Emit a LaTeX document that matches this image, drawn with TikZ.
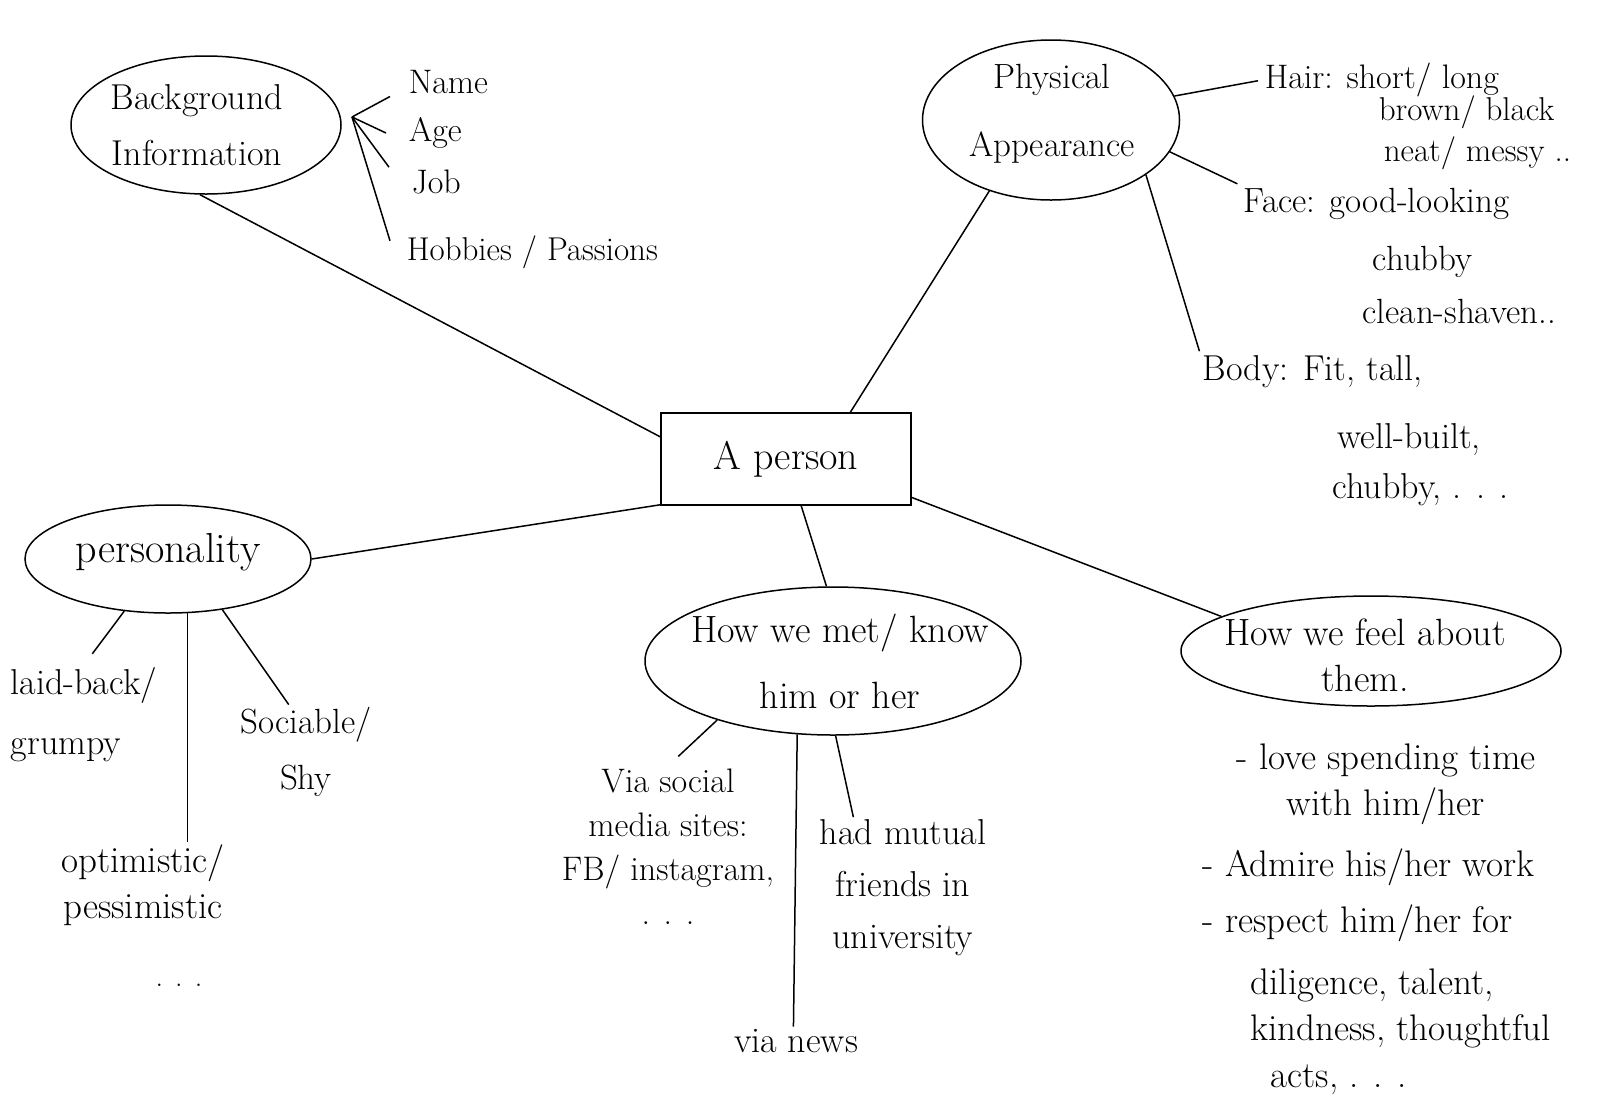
\documentclass[tikz,border=0pt]{standalone}
\usepackage{fontspec}
\usetikzlibrary{shapes.geometric}
\begin{document}
\begin{tikzpicture}[x=1pt,y=-1pt,line width=1.5pt,
  bubble/.style={draw,ellipse,inner sep=0pt},
  btext/.style={align=center,inner sep=0pt},
  leaf/.style={anchor=west,inner sep=2pt,font=\fontsize{34}{40}\selectfont},
  block/.style={inner sep=2pt,font=\fontsize{35}{42}\selectfont},
  bullet/.style={anchor=west,inner sep=2pt,font=\fontsize{37}{44}\selectfont},
  conn/.style={line width=1.5pt}]
\fill[white] (0,0) rectangle (1600,1112);
\useasboundingbox (0,0) rectangle (1600,1112);

% centre
\node[draw,minimum width=250pt,minimum height=92pt,font=\fontsize{40}{48}\selectfont] (box) at (786,459) {A person};

% bubbles
\node[bubble,minimum width=270pt,minimum height=138pt] (bg) at (206,125) {};
\node[btext,font=\fontsize{36}{56}\selectfont] (bgt) at (197,125) {Background\\Information};
\node[bubble,minimum width=257pt,minimum height=160pt] (phys) at (1051,120) {};
\node[btext,font=\fontsize{35}{68}\selectfont] (physt) at (1052,114) {Physical\\Appearance};
\node[bubble,minimum width=286pt,minimum height=108pt] (pers) at (168,559) {};
\node[btext,font=\fontsize{42}{50}\selectfont] (perst) at (168,552) {personality};
\node[bubble,minimum width=376pt,minimum height=148pt] (met) at (833,661) {};
\node[btext,font=\fontsize{38}{66}\selectfont] (mett) at (840,661) {How we met/ know\\him or her};
\node[bubble,minimum width=380pt,minimum height=110pt] (feel) at (1371,651) {};
\node[btext,font=\fontsize{38}{46}\selectfont] (feelt) at (1365,655) {How we feel about\\them.};

% background leaves
\node[leaf] (name) at (406,82) {Name};
\node[leaf] (age) at (406,133) {Age};
\node[leaf] (job) at (409,182) {Job};
\node[leaf,font=\fontsize{33}{40}\selectfont] (hobbies) at (404,252) {Hobbies / Passions};
\coordinate (bgtip) at (352,117);
\draw[conn] ([xshift=-16pt]name.south west) -- (bgtip);
\draw[conn] ([xshift=-20pt]age.west) -- (bgtip);
\draw[conn] ([xshift=-20pt]job.north west) -- (bgtip);
\draw[conn] ([xshift=-14pt,yshift=-8pt]hobbies.north west) -- (bgtip);

% physical leaves
\node[leaf] (hair1) at (1262,80) {Hair: short/ long};
\node[leaf,font=\fontsize{33}{40}\selectfont] (hair2) at (1376,112) {brown/ black};
\node[leaf,font=\fontsize{33}{40}\selectfont] (hair3) at (1381,153) {neat/ messy ..};
\node[leaf,font=\fontsize{35}{40}\selectfont] (face1) at (1241,204) {Face: good-looking};
\node[leaf,font=\fontsize{35}{40}\selectfont] (face2) at (1370,262) {chubby};
\node[leaf,font=\fontsize{35}{40}\selectfont] (face3) at (1360,311) {clean-shaven..};
\node[leaf,font=\fontsize{36}{40}\selectfont] (body1) at (1200,372) {Body: Fit, tall,};
\node[leaf,font=\fontsize{36}{40}\selectfont] (body2) at (1335,439) {well-built,};
\node[leaf,font=\fontsize{36}{40}\selectfont] (body3) at (1330,490) {chubby, . . .};
\draw[conn,shorten >=4pt] (phys.11) -- (hair1.west);
\draw[conn,shorten >=4pt] (phys.-15) -- (face1.north west);
\draw[conn,shorten >=2pt] (phys.-30) -- (body1.north west);

% personality leaves
\node[block,align=left,anchor=north west,font=\fontsize{36}{60}\selectfont] (laid) at (8,665) {laid-back/\\grumpy};
\node[block,align=center,font=\fontsize{37}{46}\selectfont] (opt) at (143,885) {optimistic/\\pessimistic};
\node[block,font=\fontsize{30}{36}\selectfont] (persdots) at (179,985) {. . .};
\node[block,align=center,font=\fontsize{35}{56}\selectfont] (soc) at (306,752) {Sociable/\\Shy};
\draw[conn,shorten >=14pt] (pers.230) -- (laid.north);
\draw[conn] (pers.290) -- (pers.290 |- opt.north);
\draw[conn] (pers.-43) -- (soc.110);

% met leaves
\node[block,align=center,anchor=north,font=\fontsize{34}{44}\selectfont] (social) at (668,766) {Via social\\media sites:\\FB/ instagram,\\. . .};
\node[block,font=\fontsize{36}{42}\selectfont] (news) at (796,1041) {via news};
\node[block,align=center,font=\fontsize{36}{52}\selectfont] (mutual) at (903,888) {had mutual\\friends in\\university};
\draw[conn,shorten >=14pt] (met.207) -- (social.north);
\draw[conn] (met.244) -- (news.100);
\draw[conn] (met.-88) -- (mutual.125);

% feel leaves
\node[bullet] (b1a) at (1234,760) {- love spending time};
\node[bullet] (b1b) at (1284,806) {with him/her};
\node[bullet] (b2) at (1200,867) {- Admire his/her work};
\node[bullet] (b3a) at (1200,923) {- respect him/her for};
\node[bullet] (b3b) at (1248,985) {diligence, talent,};
\node[bullet] (b3c) at (1248,1031) {kindness, thoughtful};
\node[bullet] (b3d) at (1268,1080) {acts, . . .};

% spokes from centre
\draw[conn] (bg.265) -- (box.170);
\draw[conn] (phys.229) -- (box.36);
\draw[conn] (pers.east) -- (box.200);
\draw[conn] (box.-72) -- (met.95);
\draw[conn] (box.-17) -- (feel.167);
\end{tikzpicture}
\end{document}
